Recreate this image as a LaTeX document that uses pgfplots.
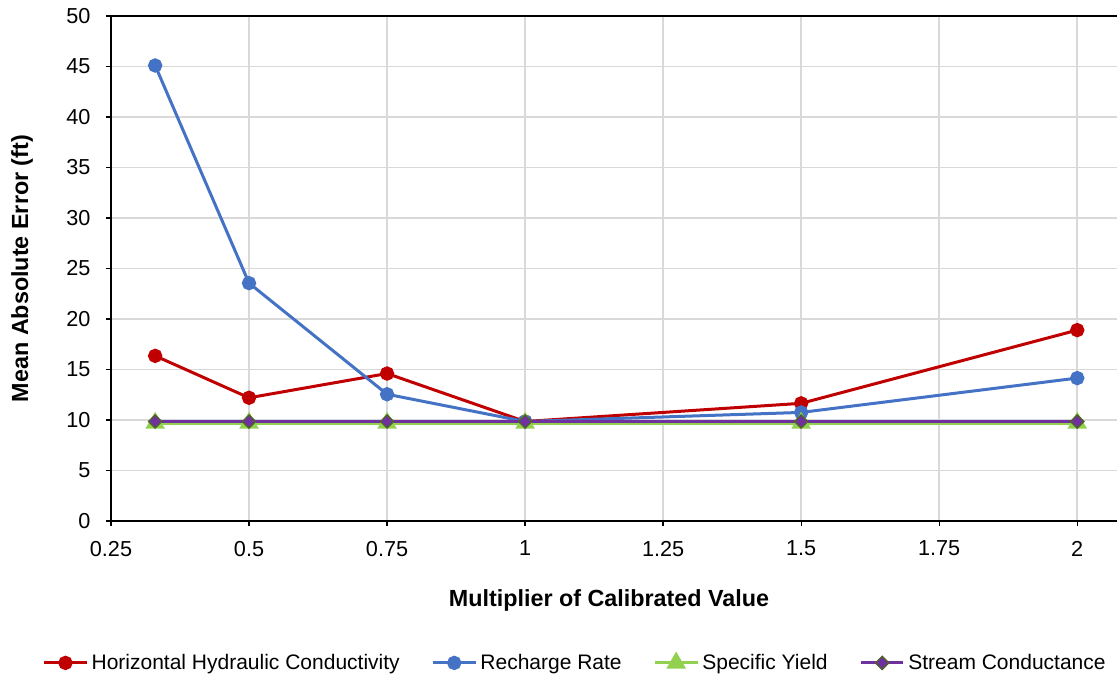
\documentclass[border=0pt]{standalone}
\usepackage{fontspec}
\setmainfont{Liberation Sans}
\usepackage{pgfplots}
\pgfplotsset{compat=1.18}

\definecolor{hkred}{HTML}{C00000}
\definecolor{rrblue}{HTML}{4472C4}
\definecolor{syg}{HTML}{92D050}
\definecolor{scpur}{HTML}{7030A0}
\definecolor{scedge}{HTML}{4F6228}
\definecolor{gridgray}{HTML}{D9D9D9}

\begin{document}
\begin{tikzpicture}
% page = 1117x677 px at 0.6pt per px
\path[use as bounding box] (-66.6pt,-93.6pt) rectangle (603.6pt,312.6pt);
\begin{axis}[
    at={(0,0)}, anchor=south west,
    scale only axis,
    width=603.6pt, height=303pt,
    xmin=0.25, xmax=2.072,
    ymin=0, ymax=50,
    xtick={0.25,0.5,...,2}, ytick={0,5,...,50},
    xticklabels={0.25,0.5,0.75,1,1.25,1.5,1.75,2},
    axis x line=box, axis y line=left,
    axis line style={line width=0.9pt, -},
    xtick pos=bottom, ytick pos=left,
    tick align=outside,
    major tick length=3pt,
    tick style={black, line width=0.8pt},
    grid=major,
    major grid style={gridgray, line width=0.9pt},
    /pgf/number format/assume math mode=true,
    ticklabel style={font=\fontsize{13}{15}\selectfont},
    yticklabel style={xshift=-5.8pt},
    xticklabel style={yshift=-5.4pt},
    xlabel={\bfseries Multiplier of Calibrated Value},
    ylabel={\bfseries Mean Absolute Error (ft)},
    label style={font=\fontsize{14}{16}\selectfont},
    xlabel style={at={(axis cs:1.152,0)}, anchor=center, yshift=-47.4pt},
    ylabel style={at={(axis description cs:0,0.5)}, anchor=center, yshift=53.4pt},
    legend columns=4,
    legend style={at={(axis description cs:0.462,-0.281)}, anchor=center,
        draw=none, font=\fontsize{12.6}{15}\selectfont,
        /tikz/every even column/.append style={column sep=17pt}},
    legend image code/.code={
        \draw[#1, mark repeat=2, mark phase=2]
        plot coordinates {(0cm,0cm) (0.45cm,0cm) (0.9cm,0cm)};
    },
    every axis plot/.append style={line width=1.8pt},
]
\addplot[hkred, mark=*, mark size=3.4pt] coordinates {
    (0.33,16.35) (0.5,12.2) (0.75,14.6) (1,9.85) (1.5,11.65) (2,18.9)
};
\addlegendentry{Horizontal Hydraulic Conductivity}
\addplot[rrblue, mark=*, mark size=3.4pt] coordinates {
    (0.33,45.1) (0.5,23.55) (0.75,12.55) (1,9.85) (1.5,10.75) (2,14.15)
};
\addlegendentry{Recharge Rate}
\addplot[syg, mark=triangle*, mark size=5pt] coordinates {
    (0.33,9.7) (0.5,9.7) (0.75,9.7) (1,9.7) (1.5,9.7) (2,9.7)
};
\addlegendentry{Specific Yield}
\addplot[scpur, mark=square*, mark size=2.8pt,
    mark options={fill=scpur, draw=scedge, line width=0.8pt, rotate=45}] coordinates {
    (0.33,9.85) (0.5,9.85) (0.75,9.85) (1,9.85) (1.5,9.85) (2,9.85)
};
\addlegendentry{Stream Conductance}
\end{axis}
\end{tikzpicture}
\end{document}
